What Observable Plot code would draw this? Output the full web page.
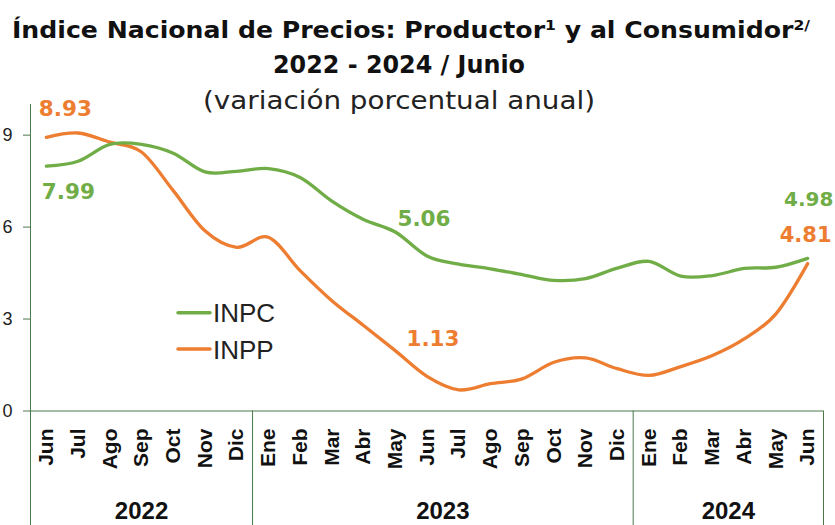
<!DOCTYPE html>
<html>
<head>
<meta charset="utf-8">
<script src="https://cdn.jsdelivr.net/npm/d3@7"></script>
<script src="https://cdn.jsdelivr.net/npm/@observablehq/plot@0.6"></script>
<style>
  html, body { margin: 0; padding: 0; background: #fff; }
  #wrap { position: relative; width: 835px; height: 525px; overflow: hidden; }
  #wrap svg { position: absolute; left: 0; top: 0; }
  #overlay { pointer-events: none; }
</style>
</head>
<body>
<div id="wrap"></div>
<script>
// ---- data ----
const months = ["Jun","Jul","Ago","Sep","Oct","Nov","Dic",
                "Ene","Feb","Mar","Abr","May","Jun","Jul","Ago","Sep","Oct","Nov","Dic",
                "Ene","Feb","Mar","Abr","May","Jun"];
const years = ["2022","2023","2024"];
const monthsPerYear = [7, 12, 6];
const inpc = [7.99, 8.15, 8.70, 8.70, 8.41, 7.80, 7.82,
              7.91, 7.62, 6.85, 6.25, 5.84, 5.06, 4.79, 4.64, 4.45, 4.26, 4.32, 4.66,
              4.88, 4.40, 4.42, 4.65, 4.69, 4.98];
const inpp = [8.93, 9.07, 8.77, 8.45, 7.19, 5.88, 5.34,
              5.67, 4.58, 3.60, 2.79, 1.97, 1.13, 0.69, 0.89, 1.05, 1.59, 1.73, 1.38,
              1.16, 1.45, 1.81, 2.35, 3.17, 4.81];
const yTicks = [0, 3, 6, 9];
const seriesNames = ["INPC", "INPP"];

// ---- styles ----
const GREEN = "#70ad47";
const ORANGE = "#ed7d31";
const AXIS = "#4a7a4a";
const labelFont = "DejaVu Sans, sans-serif";
const armFont = "Liberation Sans, Arial, sans-serif";

// annotated points: series, index, offsets, size
const annotations = [
  {s: "INPP", i: 0,  dx: 19, dy: -21, size: 21.5},
  {s: "INPC", i: 0,  dx: 22, dy: 33,  size: 21.5},
  {s: "INPC", i: 12, dx: -3, dy: -30, size: 21.5},
  {s: "INPP", i: 12, dx: 6,  dy: -30, size: 21.5},
  {s: "INPC", i: 24, dx: 1,  dy: -52, size: 20},
  {s: "INPP", i: 24, dx: -2, dy: -22, size: 21}
];
const seriesData = {INPC: inpc, INPP: inpp};
const seriesColor = {INPC: GREEN, INPP: ORANGE};

// year group boundaries and centers from month counts
const bounds = [-0.5];
monthsPerYear.forEach(c => bounds.push(bounds[bounds.length - 1] + c));
const yearCenters = years.map((y, k) => ({year: y, x: (bounds[k] + bounds[k + 1]) / 2}));

const idx = months.map((m, i) => i);

const marks = [
  Plot.ruleX([bounds[0]], {y1: 10, y2: -3.8, stroke: AXIS, strokeWidth: 1}),
  Plot.ruleX(bounds.slice(1), {y1: 0, y2: -3.8, stroke: AXIS, strokeWidth: 1}),
  Plot.ruleY([0], {stroke: AXIS, strokeWidth: 1}),
  Plot.axisY(yTicks, {tickSize: 7, tickPadding: 11, stroke: AXIS, fill: "#222",
                      fontSize: 18, fontFamily: armFont, label: null}),
  Plot.lineY(inpp, {x: (d, i) => i, y: d => d, curve: "cardinal", stroke: ORANGE, strokeWidth: 3.3}),
  Plot.lineY(inpc, {x: (d, i) => i, y: d => d, curve: "cardinal", stroke: GREEN, strokeWidth: 3.3}),
  Plot.text(idx, {x: d => d, text: d => months[d], frameAnchor: "bottom", dy: 17.5,
                  rotate: -90, textAnchor: "end", lineAnchor: "middle",
                  fontSize: 21, fontWeight: "bold", fontFamily: armFont, fill: "#111"}),
  Plot.text(yearCenters, {x: "x", text: "year", frameAnchor: "bottom", dy: 100.5,
                          lineAnchor: "middle", fontSize: 24, fontWeight: "bold",
                          fontFamily: armFont, fill: "#111"}),
  ...annotations.map(a => Plot.text([a], {
    x: d => d.i, y: d => seriesData[d.s][d.i], text: d => seriesData[d.s][d.i].toFixed(2),
    dx: a.dx, dy: a.dy, lineAnchor: "bottom", textAnchor: "middle",
    fontSize: a.size, fontWeight: "bold", fontFamily: labelFont, fill: seriesColor[a.s]
  }))
];

const chart = Plot.plot({
  width: 835, height: 525,
  marginLeft: 30, marginRight: 12, marginTop: 104, marginBottom: 114.5,
  x: {type: "linear", domain: [-0.5, 24.5], axis: null},
  y: {type: "linear", domain: [0, 10], axis: null},
  style: {background: "transparent", overflow: "visible"},
  marks
});
document.getElementById("wrap").appendChild(chart);

// ---- overlay: titles and legend ----
const ns = "http://www.w3.org/2000/svg";
const ov = document.createElementNS(ns, "svg");
ov.setAttribute("id", "overlay");
ov.setAttribute("width", 835);
ov.setAttribute("height", 525);
document.getElementById("wrap").appendChild(ov);

function addText(parts, x, y, opts) {
  const t = document.createElementNS(ns, "text");
  t.setAttribute("x", x); t.setAttribute("y", y);
  t.setAttribute("text-anchor", opts.anchor || "middle");
  t.setAttribute("font-family", opts.family);
  t.setAttribute("font-size", opts.size);
  t.setAttribute("font-weight", opts.weight || "normal");
  t.setAttribute("fill", opts.fill || "#111");
  if (opts.len) { t.setAttribute("textLength", opts.len); t.setAttribute("lengthAdjust", "spacingAndGlyphs"); }
  for (const p of parts) {
    const s = document.createElementNS(ns, "tspan");
    s.textContent = p.t;
    if (p.sup) { s.setAttribute("font-size", opts.size * 0.62); s.setAttribute("dy", -8); }
    if (p.down) { s.setAttribute("dy", 8); }
    t.appendChild(s);
  }
  ov.appendChild(t);
  return t;
}

addText([{t: "Índice Nacional de Precios: Productor"}, {t: "1", sup: true},
         {t: " y al Consumidor", down: true}, {t: "2/", sup: true}],
        411, 38, {family: labelFont, size: 23.5, weight: "bold", len: 798});
addText([{t: "2022 - 2024 / Junio"}], 399, 73, {family: labelFont, size: 24, weight: "bold", len: 252});
addText([{t: "(variación porcentual anual)"}], 399, 109, {family: labelFont, size: 25.5, weight: "normal", fill: "#222", len: 392});

// legend
const legendY = [312.7, 349];
seriesNames.forEach((name, k) => {
  const l = document.createElementNS(ns, "line");
  l.setAttribute("x1", 178); l.setAttribute("x2", 210);
  l.setAttribute("y1", legendY[k]); l.setAttribute("y2", legendY[k]);
  l.setAttribute("stroke", seriesColor[name]); l.setAttribute("stroke-width", 3.5);
  l.setAttribute("stroke-linecap", "round");
  ov.appendChild(l);
  addText([{t: name}], 213, legendY[k] + 9.5, {family: armFont, size: 26, anchor: "start", fill: "#222"});
});
</script>
</body>
</html>
